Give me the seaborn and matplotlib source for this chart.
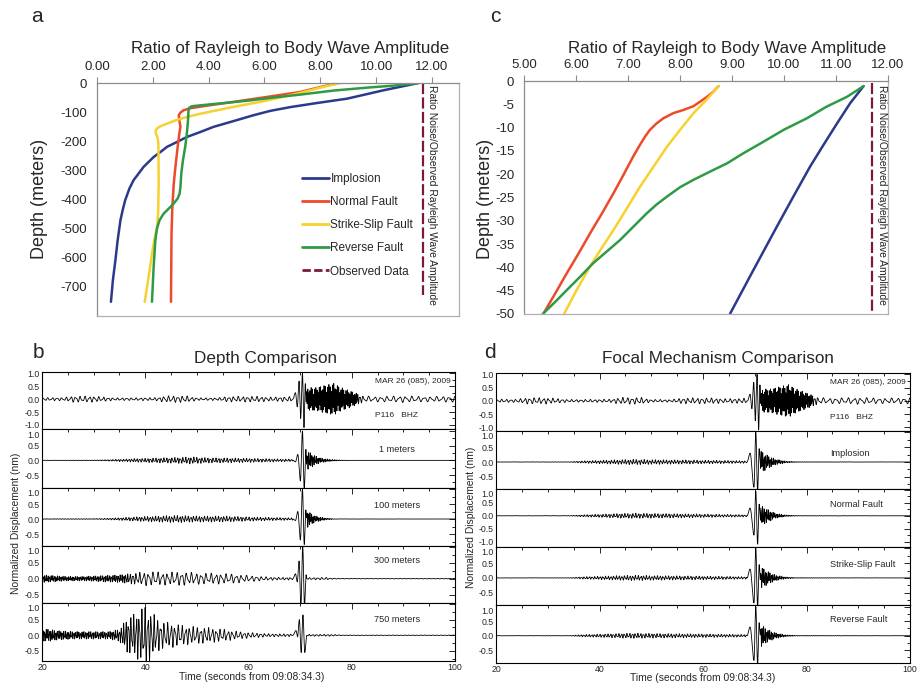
import numpy as np
import pandas as pd
import matplotlib
matplotlib.use("Agg")
import matplotlib.pyplot as plt
import seaborn as sns
from matplotlib.lines import Line2D
from matplotlib.ticker import MultipleLocator, FormatStrFormatter

sns.set_style("white")
plt.rcParams['font.family'] = ['Liberation Sans', 'DejaVu Sans']

# ------------------------------------------------------------------ data
# Panel a : ratio vs depth (0 .. -750 m)
a_imp_x = [11.52, 10.27, 8.96, 7.88, 6.93, 6.21, 5.61, 4.90, 4.18, 3.70, 3.22, 2.87, 2.51, 2.27, 2.03,
           1.85, 1.67, 1.49, 1.31, 1.16, 1.01, 0.92, 0.84, 0.74, 0.66, 0.57, 0.50]
a_imp_d = [0, -25, -54, -69, -83, -96, -111, -131, -151, -169, -186, -203, -220, -238, -255,
           -272, -289, -312, -335, -364, -404, -438, -473, -542, -610, -679, -754]
a_nor_x = [8.66, 8.00, 7.28, 6.09, 4.90, 3.94, 3.34, 3.10, 2.99, 2.93, 2.95, 2.99, 2.95, 2.89, 2.81,
           2.75, 2.70, 2.67, 2.65]
a_nor_d = [0, -14, -31, -48, -65, -78, -87, -94, -102, -111, -129, -151, -174, -220, -289,
           -347, -427, -519, -754]
a_ssf_x = [8.72, 8.00, 7.28, 6.57, 5.85, 5.01, 4.30, 3.70, 3.22, 2.81, 2.51, 2.27, 2.15, 2.10, 2.11,
           2.17, 2.20, 2.21, 2.19, 2.15, 2.05, 1.97, 1.85, 1.71]
a_ssf_d = [0, -16, -34, -50, -65, -80, -94, -106, -117, -129, -140, -149, -157, -165, -174,
           -188, -209, -347, -450, -496, -542, -588, -668, -754]
a_rev_x = [11.52, 10.63, 9.67, 8.48, 7.28, 6.33, 5.49, 4.66, 3.70, 3.40, 3.31, 3.28, 3.26, 3.22, 3.16,
           3.08, 3.02, 2.99, 2.96, 2.89, 2.75, 2.57, 2.39, 2.24, 2.15, 2.09, 2.03, 1.97]
a_rev_d = [0, -9, -16, -26, -40, -50, -60, -68, -77, -80, -85, -94, -129, -174, -220,
           -266, -312, -358, -381, -398, -415, -433, -450, -473, -501, -542, -633, -754]
a_obs_x = [11.68, 11.68]
a_obs_d = [0, -731]

# Panel c : ratio vs depth (0 .. -50 m)
c_imp_x = [11.53, 11.27, 11.02, 10.76, 10.50, 10.18, 9.86, 9.41, 8.96]
c_imp_d = [-1.1, -4.8, -9.1, -13.7, -18.4, -24.8, -31.3, -40.6, -50.0]
c_nor_x = [8.74, 8.64, 8.52, 8.39, 8.26, 8.07, 7.87, 7.68, 7.55, 7.42, 7.33, 7.23, 7.10, 6.91, 6.72,
           6.50, 6.27, 6.05, 5.82, 5.60, 5.37]
c_nor_d = [-1.1, -2.3, -3.4, -4.4, -5.4, -6.2, -6.9, -8.0, -9.1, -10.5, -11.9, -13.7, -16.2, -20.2, -24.1,
           -28.4, -32.7, -37.0, -41.3, -45.6, -50.0]
c_ssf_x = [8.74, 8.52, 8.26, 8.00, 7.75, 7.49, 7.23, 6.98, 6.72, 6.49, 6.27, 6.01, 5.77]
c_ssf_d = [-1.1, -3.9, -6.9, -10.5, -14.1, -18.4, -22.7, -27.3, -32.0, -35.9, -39.8, -44.9, -50.0]
c_rev_x = [11.53, 11.21, 10.82, 10.44, 9.99, 9.61, 9.22, 8.90, 8.64, 8.26, 8.00, 7.75, 7.55, 7.36, 7.10,
           6.85, 6.59, 6.33, 6.08, 5.82, 5.60, 5.36]
c_rev_d = [-1.1, -3.4, -5.5, -8.0, -10.5, -13.0, -15.5, -17.7, -19.1, -21.2, -22.8, -24.8, -26.5, -28.4, -31.3,
           -34.1, -36.6, -39.1, -42.0, -44.9, -47.4, -50.0]
c_obs_x = [11.70, 11.70]
c_obs_d = [-0.5, -49.9]

series_labels = ["Implosion", "Normal Fault", "Strike-Slip Fault", "Reverse Fault", "Observed Data"]
a_xticks = [0, 2, 4, 6, 8, 10, 12]
a_yticks = [0, -100, -200, -300, -400, -500, -600, -700]
c_xticks = [5, 6, 7, 8, 9, 10, 11, 12]
c_yticks = [0, -5, -10, -15, -20, -25, -30, -35, -40, -45, -50]

# Seismograms: envelope knots, dominant period knots and main-arrival peaks
obs_env_t = [20, 24, 26, 30, 34, 36, 42, 44, 48, 50, 54, 56, 62, 64, 68.4, 68.6, 71.1, 71.3, 72, 73, 75, 76.5, 78, 80, 82, 84, 90, 95, 100]
obs_env_a = [0.06, 0.06, 0.12, 0.12, 0.05, 0.05, 0.06, 0.13, 0.13, 0.05, 0.05, 0.11, 0.11, 0.08, 0.1, 0, 0, 0.4, 0.45, 0.45, 0.55, 0.62, 0.45, 0.3, 0.14, 0.1, 0.13, 0.1, 0.12]
obs_per_t = [20, 68, 71.2, 81, 83, 100]
obs_per_v = [0.9, 0.9, 0.22, 0.25, 1.2, 1.2]
obs_pk_t = [68.6, 69.1, 69.45, 69.8, 70.1, 70.45, 70.75, 71.0, 71.2]
obs_pk_v = [0.0, 0.25, -0.3, 0.7, -0.75, 1.0, -1.1, 0.6, 0.0]

m1_env_t = [20, 30, 34, 38, 42, 46, 49, 52, 56, 60, 64, 68.5, 68.6, 71.1, 71.3, 72, 73, 74, 76, 78, 80, 100]
m1_env_a = [0.006, 0.01, 0.03, 0.06, 0.08, 0.1, 0.12, 0.09, 0.08, 0.07, 0.055, 0.04, 0, 0, 0.35, 0.25, 0.15, 0.08, 0.03, 0.01, 0.0, 0.0]
m1_per_t = [20, 68, 71.2, 78, 100]
m1_per_v = [0.5, 0.55, 0.28, 0.35, 0.5]
m1_pk_t = [68.6, 69.1, 69.55, 70.05, 70.45, 70.8, 71.1, 71.3]
m1_pk_v = [0.0, -0.05, 0.2, -0.7, 1.0, -1.0, 0.35, 0.0]

m100_env_t = [20, 30, 33, 38, 42, 46, 50, 55, 60, 65, 68.5, 68.6, 71.1, 71.3, 72, 73, 75, 77, 100]
m100_env_a = [0.01, 0.012, 0.025, 0.07, 0.1, 0.12, 0.1, 0.1, 0.07, 0.05, 0.04, 0, 0, 0.3, 0.2, 0.1, 0.03, 0.005, 0.0]
m100_per_t = [20, 68, 71.2, 78, 100]
m100_per_v = [0.5, 0.55, 0.28, 0.35, 0.5]
m100_pk_t = [68.6, 69.1, 69.55, 70.05, 70.45, 70.8, 71.1, 71.3]
m100_pk_v = [0.0, -0.05, 0.25, -0.7, 1.0, -0.85, 0.3, 0.0]

m300_env_t = [20, 22, 25, 28, 32, 35, 38, 40, 42, 44, 47, 50, 54, 57, 60, 63, 66, 68.5, 68.6, 71.3, 71.5, 75, 76, 78, 100]
m300_env_a = [0.12, 0.1, 0.07, 0.07, 0.1, 0.12, 0.18, 0.22, 0.22, 0.2, 0.22, 0.18, 0.17, 0.15, 0.1, 0.06, 0.04, 0.04, 0, 0, 0.03, 0.04, 0.02, 0.01, 0.01]
m300_per_t = [20, 36, 40, 60, 68, 72, 100]
m300_per_v = [0.3, 0.35, 0.9, 1.0, 0.7, 0.8, 0.8]
m300_pk_t = [68.6, 69.1, 69.45, 69.8, 70.15, 70.5, 70.85, 71.15, 71.3]
m300_pk_v = [0.0, 0.15, -0.1, 0.55, -0.85, 1.0, -0.85, 0.12, 0.0]

m750_env_t = [20, 21, 23, 26, 30, 33, 35, 36.5, 38, 40, 41.5, 43, 45, 48, 52, 55, 58, 61, 64, 68.5, 68.6, 71.3, 71.5, 76, 78, 100]
m750_env_a = [0.18, 0.2, 0.15, 0.12, 0.12, 0.12, 0.2, 0.55, 0.7, 0.95, 0.7, 0.45, 0.4, 0.3, 0.25, 0.2, 0.12, 0.08, 0.05, 0.04, 0, 0, 0.03, 0.03, 0.01, 0.01]
m750_per_t = [20, 34, 37, 45, 60, 68, 100]
m750_per_v = [0.3, 0.35, 0.5, 0.7, 0.8, 0.7, 0.8]
m750_pk_t = [68.6, 69.2, 69.5, 69.85, 70.2, 70.55, 70.9, 71.3]
m750_pk_v = [0.0, 0.15, -0.05, 0.5, -0.55, 0.65, -0.55, 0.0]

imp_env_t = [20, 34, 37, 40, 44, 47, 50, 55, 60, 65, 68.4, 68.5, 71.0, 71.2, 72.5, 74, 76, 78, 100]
imp_env_a = [0.004, 0.007, 0.04, 0.055, 0.08, 0.09, 0.08, 0.07, 0.06, 0.05, 0.04, 0, 0, 0.38, 0.22, 0.1, 0.03, 0.01, 0.0]
imp_pk_t = [68.5, 69.1, 69.85, 70.2, 70.55, 70.85, 71.1]
imp_pk_v = [0.0, 0.3, -0.85, 1.0, -1.0, 0.45, 0.0]

nor_env_t = [20, 34, 37, 40, 44, 47, 50, 55, 60, 65, 68.4, 68.5, 71.0, 71.2, 72.5, 74, 76, 78, 100]
nor_env_a = [0.004, 0.008, 0.04, 0.06, 0.09, 0.1, 0.09, 0.08, 0.065, 0.05, 0.04, 0, 0, 0.4, 0.25, 0.1, 0.03, 0.01, 0.0]
nor_pk_t = [68.5, 69.1, 69.85, 70.2, 70.55, 70.85, 71.1]
nor_pk_v = [0.0, 0.3, -0.75, 0.95, -1.1, 0.45, 0.0]

ssf_env_t = [20, 34, 37, 40, 44, 47, 50, 55, 60, 65, 68.4, 68.5, 71.0, 71.2, 72.5, 74, 76, 78, 100]
ssf_env_a = [0.004, 0.007, 0.04, 0.055, 0.08, 0.09, 0.08, 0.07, 0.06, 0.05, 0.04, 0, 0, 0.38, 0.22, 0.1, 0.03, 0.01, 0.0]
ssf_pk_t = [68.5, 69.1, 69.85, 70.2, 70.55, 70.85, 71.1]
ssf_pk_v = [0.0, 0.3, -0.85, 1.0, -1.0, 0.45, 0.0]

rev_env_t = [20, 34, 37, 40, 44, 47, 50, 55, 60, 65, 68.4, 68.5, 71.0, 71.2, 72.5, 74, 76, 78, 100]
rev_env_a = [0.004, 0.007, 0.04, 0.055, 0.08, 0.09, 0.08, 0.07, 0.06, 0.05, 0.04, 0, 0, 0.38, 0.22, 0.1, 0.03, 0.01, 0.0]
rev_pk_t = [68.5, 69.1, 69.85, 70.2, 70.55, 70.85, 71.1]
rev_pk_v = [0.0, 0.3, -0.85, 1.0, -1.0, 0.45, 0.0]

syn_per_t = [20, 68, 71.2, 78, 100]
syn_per_v = [0.5, 0.55, 0.28, 0.35, 0.5]

b_labels = ["", "1 meters", "100 meters", "300 meters", "750 meters"]
d_labels = ["", "Implosion", "Normal Fault", "Strike-Slip Fault", "Reverse Fault"]
amp_ticks = [1.0, 0.5, 0.0, -0.5, -1.0]

# ------------------------------------------------------------------ helpers
W, H = 917, 687
DT = 0.01
T = np.arange(20, 100 + DT, DT)


def box(x0, y0, x1, y1):
    return [x0 / W, 1 - y1 / H, (x1 - x0) / W, (y1 - y0) / H]


def trace(env_t, env_a, per_t, per_v, pk_t, pk_v, k):
    period = np.interp(T, per_t, per_v)
    ph = 2 * np.pi * np.cumsum(DT / period) + 0.7 * k
    carrier = 0.68 * np.sin(ph) + 0.32 * np.sin(1.73 * ph + 0.9 + k)
    sig = np.interp(T, env_t, env_a) * carrier
    for i in range(len(pk_t) - 1):
        m = (T >= pk_t[i]) & (T < pk_t[i + 1])
        s = (T[m] - pk_t[i]) / (pk_t[i + 1] - pk_t[i])
        sig[m] += pk_v[i] + (pk_v[i + 1] - pk_v[i]) * (1 - np.cos(np.pi * s)) / 2
    return sig


C_IMP, C_NOR, C_SSF, C_REV, C_OBS = "#2b3a8a", "#ec4a2a", "#f7d12e", "#2f9a45", "#7a1a38"
GRAY = "#8c8c8c"

fig = plt.figure(figsize=(W / 100, H / 100), dpi=100)


def depth_panel(rect, curves, obs, xlim, ylim, xticks, yticks, ytxt_x, ytxt_y):
    ax = fig.add_axes(rect)
    for (x, d), c in zip(curves, [C_IMP, C_NOR, C_SSF, C_REV]):
        sns.lineplot(x=x, y=d, sort=False, estimator=None, color=c, lw=1.8, ax=ax)
    sns.lineplot(x=obs[0], y=obs[1], sort=False, estimator=None, color=C_OBS, lw=1.6,
                 linestyle=(0, (5, 1.5)), ax=ax)
    ax.set_xlim(*xlim)
    ax.set_ylim(*ylim)
    ax.xaxis.tick_top()
    ax.set_xticks(xticks)
    ax.set_yticks(yticks)
    ax.xaxis.set_major_formatter(FormatStrFormatter('%.2f'))
    ax.yaxis.set_major_formatter(FormatStrFormatter('%d'))
    ax.tick_params(axis='both', direction='out', length=4, width=0.8, color=GRAY,
                   labelsize=9.5, pad=3)
    for sp in ax.spines.values():
        sp.set_color("#b0b0b0")
        sp.set_linewidth(0.9)
    ax.spines['left'].set_color(GRAY)
    ax.spines['top'].set_color(GRAY)
    ax.set_xlabel("")
    ax.set_ylabel("")
    ax.text(ytxt_x, ytxt_y, "Ratio Noise/Observed Rayleigh Wave Amplitude", rotation=-90,
            ha='left', va='top', fontsize=7.4, color="#222222")
    return ax


ax_a = depth_panel(box(97, 83, 459, 316),
                   [(a_imp_x, a_imp_d), (a_nor_x, a_nor_d), (a_ssf_x, a_ssf_d), (a_rev_x, a_rev_d)],
                   (a_obs_x, a_obs_d), (0, 12.97), (-803, 0), a_xticks, a_yticks, 11.84, -8)
handles = [Line2D([], [], color=c, lw=2) for c in [C_IMP, C_NOR, C_SSF, C_REV]]
handles.append(Line2D([], [], color=C_OBS, lw=2, linestyle=(0, (3, 1.2))))
ax_a.legend(handles, series_labels, loc='upper left', bbox_to_anchor=(0.565, 0.615),
            frameon=False, fontsize=8.5, handlelength=2.3, handletextpad=0.15,
            labelspacing=0.95, borderpad=0, borderaxespad=0)

ax_c = depth_panel(box(524, 81, 888, 314),
                   [(c_imp_x, c_imp_d), (c_nor_x, c_nor_d), (c_ssf_x, c_ssf_d), (c_rev_x, c_rev_d)],
                   (c_obs_x, c_obs_d), (5, 12), (-50, 0), c_xticks, c_yticks, 11.79, -0.8)

title = "Ratio of Rayleigh to Body Wave Amplitude"
fig.text(290 / W, 1 - 48 / H, title, fontsize=12.2, ha='center', va='center')
fig.text(727 / W, 1 - 48 / H, title, fontsize=12.2, ha='center', va='center')
fig.text(40 / W, 1 - 199 / H, "Depth (meters)", fontsize=13, rotation=90, ha='center', va='center')
fig.text(486 / W, 1 - 199 / H, "Depth (meters)", fontsize=13, rotation=90, ha='center', va='center')

# ------------------------------------------------------------------ seismograms
obs_sig = trace(obs_env_t, obs_env_a, obs_per_t, obs_per_v, obs_pk_t, obs_pk_v, 0)
b_sigs = [obs_sig,
          trace(m1_env_t, m1_env_a, m1_per_t, m1_per_v, m1_pk_t, m1_pk_v, 1),
          trace(m100_env_t, m100_env_a, m100_per_t, m100_per_v, m100_pk_t, m100_pk_v, 2),
          trace(m300_env_t, m300_env_a, m300_per_t, m300_per_v, m300_pk_t, m300_pk_v, 3),
          trace(m750_env_t, m750_env_a, m750_per_t, m750_per_v, m750_pk_t, m750_pk_v, 4)]
d_sigs = [obs_sig,
          trace(imp_env_t, imp_env_a, syn_per_t, syn_per_v, imp_pk_t, imp_pk_v, 5),
          trace(nor_env_t, nor_env_a, syn_per_t, syn_per_v, nor_pk_t, nor_pk_v, 6),
          trace(ssf_env_t, ssf_env_a, syn_per_t, syn_per_v, ssf_pk_t, ssf_pk_v, 7),
          trace(rev_env_t, rev_env_a, syn_per_t, syn_per_v, rev_pk_t, rev_pk_v, 8)]

b_edges = [371.7, 429.3, 487.7, 545.7, 603.3, 660.7]
b_ylims = [(-1.17, 1.065), (-0.93, 1.057), (-0.89, 1.044), (-0.77, 1.03), (-0.81, 1.02)]
d_edges = [373.3, 431.0, 489.0, 546.7, 605.0, 662.7]
d_ylims = [(-1.14, 1.04), (-0.91, 1.045), (-1.2, 1.04), (-0.92, 1.06), (-0.93, 1.06)]

sfont = ['Liberation Sans Narrow', 'Liberation Sans', 'DejaVu Sans']


def seis_panel(x0, x1, edges, ylims, sigs, labels, lab_x, lab_ys, lab_ha):
    for i in range(5):
        ax = fig.add_axes(box(x0, edges[i], x1, edges[i + 1]))
        sns.lineplot(x=T, y=sigs[i], estimator=None, sort=False, color='black', lw=0.6, ax=ax)
        ax.set_xlim(20, 100)
        ax.set_ylim(*ylims[i])
        ax.xaxis.set_major_locator(MultipleLocator(20))
        ax.xaxis.set_minor_locator(MultipleLocator(5))
        ax.xaxis.set_major_formatter(FormatStrFormatter('%d'))
        yt = [v for v in amp_ticks if ylims[i][0] <= v <= ylims[i][1]]
        ax.set_yticks(yt)
        labs = ax.set_yticklabels(['%.1f' % v for v in yt], family=sfont, fontsize=6.3)
        if i > 0:
            labs[0].set_va('top')
        ax.yaxis.set_minor_locator(MultipleLocator(0.25))
        ax.tick_params(axis='both', which='both', direction='in', top=True, right=True,
                       width=0.7, pad=1.5)
        ax.tick_params(axis='x', labelsize=6.3)
        ax.tick_params(which='major', length=4)
        ax.tick_params(which='minor', length=2.5)
        for lab in ax.get_xticklabels():
            lab.set_family(sfont)
        ax.tick_params(axis='x', labelbottom=(i == 4))
        for sp in ax.spines.values():
            sp.set_color('black')
            sp.set_linewidth(0.8)
        ax.set_xlabel("")
        ax.set_ylabel("")
        if i == 0:
            ax.text(84.6, 0.68, "MAR 26 (085), 2009", fontsize=6.0, family=sfont, ha='left', va='center')
            ax.text(84.6, -0.62, "P116   BHZ", fontsize=6.0, family=sfont, ha='left', va='center')
        else:
            ax.text(lab_x, lab_ys[i], labels[i], fontsize=6.6, ha=lab_ha, va='center')


seis_panel(42, 455, b_edges, b_ylims, b_sigs, b_labels, 88.7, [0, 0.36, 0.44, 0.56, 0.51], 'center')
seis_panel(496, 910, d_edges, d_ylims, d_sigs, d_labels, 84.5, [0, 0.29, 0.44, 0.46, 0.57], 'left')

fig.text(266 / W, 1 - 358 / H, "Depth Comparison", fontsize=12.3, ha='center', va='center')
fig.text(718 / W, 1 - 359 / H, "Focal Mechanism Comparison", fontsize=12.3, ha='center', va='center')
fig.text(252 / W, 1 - 677 / H, "Time (seconds from 09:08:34.3)", fontsize=7.4, ha='center', va='center')
fig.text(703 / W, 1 - 678 / H, "Time (seconds from 09:08:34.3)", fontsize=7.4, ha='center', va='center')
fig.text(16 / W, 1 - 523 / H, "Normalized Displacement (nm)", fontsize=7.4, rotation=90, ha='center', va='center')
fig.text(471 / W, 1 - 517 / H, "Normalized Displacement (nm)", fontsize=7.4, rotation=90, ha='center', va='center')

for letter, x, y in [("a", 37, 16), ("c", 495, 16), ("b", 38, 352), ("d", 490, 352)]:
    fig.text(x / W, 1 - y / H, letter, fontsize=15, ha='center', va='center')

fig.savefig("out.png", dpi=100, facecolor='white')
